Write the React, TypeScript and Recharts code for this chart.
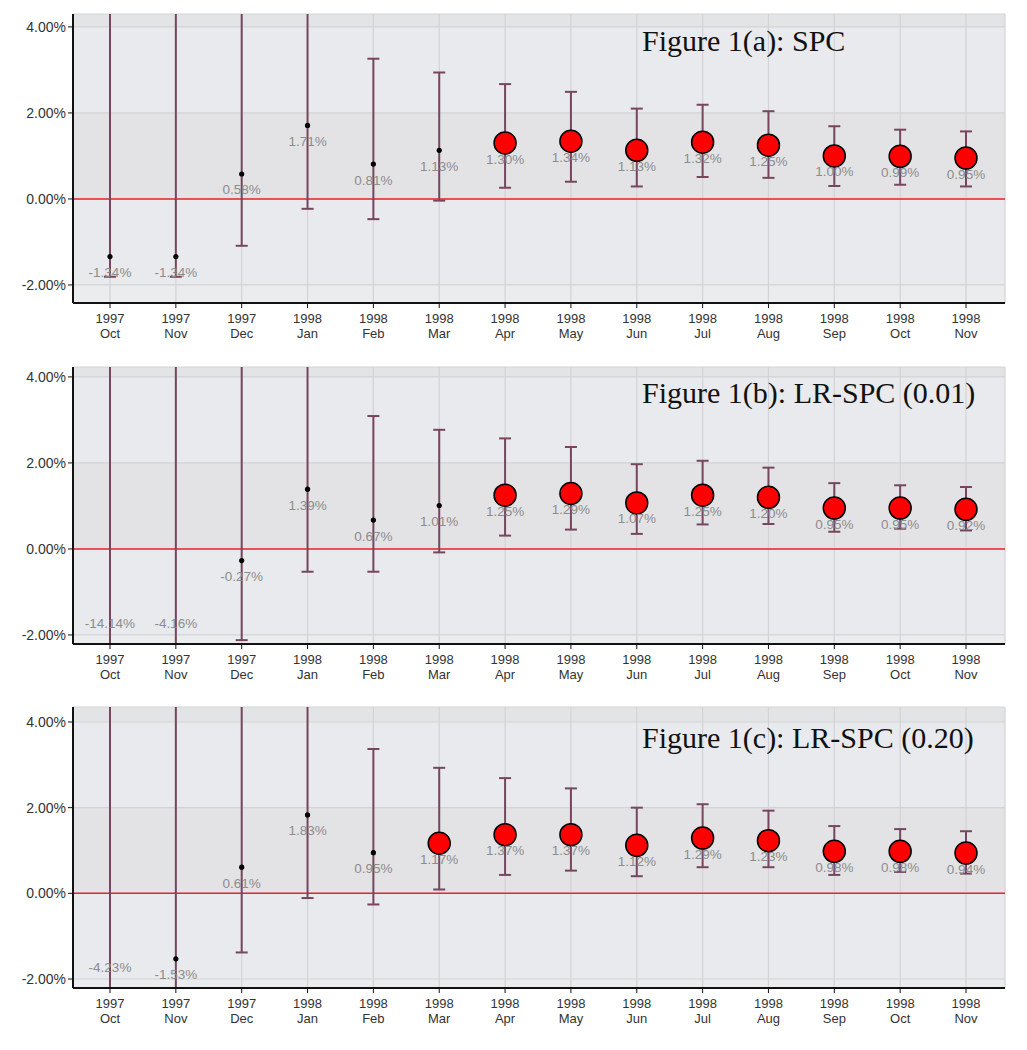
import React from "react";
import {
  ComposedChart,
  Line,
  ErrorBar,
  LabelList,
  XAxis,
  YAxis,
  CartesianGrid,
  ReferenceLine,
} from "recharts";

const years = ["1997", "1997", "1997", "1998", "1998", "1998", "1998", "1998", "1998", "1998", "1998", "1998", "1998", "1998"];
const months = ["Oct", "Nov", "Dec", "Jan", "Feb", "Mar", "Apr", "May", "Jun", "Jul", "Aug", "Sep", "Oct", "Nov"];
const yTicks = [-2, 0, 2, 4];

// Figure 1(a): SPC
const spcValue = [-1.34, -1.34, 0.58, 1.71, 0.81, 1.13, 1.3, 1.34, 1.13, 1.32, 1.25, 1.0, 0.99, 0.95];
const spcLower = [-1.81, -1.81, -1.09, -0.23, -0.47, -0.04, 0.26, 0.4, 0.29, 0.51, 0.49, 0.3, 0.33, 0.29];
const spcUpper = [6.5, 6.5, 5.6, 4.9, 3.26, 2.94, 2.67, 2.49, 2.1, 2.19, 2.04, 1.69, 1.61, 1.57];
const spcSignal = [0, 0, 0, 0, 0, 0, 1, 1, 1, 1, 1, 1, 1, 1];

// Figure 1(b): LR-SPC (0.01)
const lr01Value = [-14.14, -4.16, -0.27, 1.39, 0.67, 1.01, 1.25, 1.29, 1.07, 1.25, 1.2, 0.95, 0.95, 0.92];
const lr01Lower = [-30, -9, -2.12, -0.53, -0.53, -0.08, 0.31, 0.45, 0.35, 0.57, 0.58, 0.4, 0.47, 0.43];
const lr01Upper = [9, 7, 5.5, 4.9, 3.09, 2.77, 2.57, 2.37, 1.97, 2.05, 1.89, 1.53, 1.48, 1.44];
const lr01Signal = [0, 0, 0, 0, 0, 0, 1, 1, 1, 1, 1, 1, 1, 1];

// Figure 1(c): LR-SPC (0.20)
const lr20Value = [-4.23, -1.53, 0.61, 1.83, 0.95, 1.17, 1.37, 1.37, 1.12, 1.29, 1.23, 0.98, 0.98, 0.94];
const lr20Lower = [-10, -3.6, -1.38, -0.11, -0.26, 0.09, 0.43, 0.53, 0.4, 0.61, 0.61, 0.43, 0.5, 0.46];
const lr20Upper = [6.5, 6, 5, 4.8, 3.37, 2.93, 2.69, 2.45, 2.0, 2.08, 1.93, 1.57, 1.5, 1.45];
const lr20Signal = [0, 0, 0, 0, 0, 1, 1, 1, 1, 1, 1, 1, 1, 1];

const BAR_COLOR = "#76465e";
const BAND_FILLS = ["#e3e4e6", "#e8eaed", "#e3e3e5", "#e8eaed", "#eaecee"];
const PLOT_LEFT = 73;
const PLOT_RIGHT_MARGIN = 22;
const CHART_W = 1027;

const buildRows = (value: number[], lower: number[], upper: number[], signal: number[]) =>
  value.map((v, i) => ({
    label: `${years[i]}|${months[i]}|${i}`,
    value: v,
    err: [v - lower[i], upper[i] - v],
    signal: signal[i],
  }));

const XTick = (props: any) => {
  const { x, y, payload } = props;
  const [yr, mo] = String(payload.value).split("|");
  return (
    <g>
      <text x={x} y={y + 13} textAnchor="middle" fontSize={13} fill="#333" fontFamily="Liberation Sans, Arial">
        {yr}
      </text>
      <text x={x} y={y + 28} textAnchor="middle" fontSize={13} fill="#333" fontFamily="Liberation Sans, Arial">
        {mo}
      </text>
    </g>
  );
};

interface PanelProps {
  id: string;
  title: string;
  top: number;
  marginTop: number;
  plotHeight: number;
  domain: [number, number];
  titleTop: number;
  rows: ReturnType<typeof buildRows>;
}

function Panel({ id, title, top, marginTop, plotHeight, domain, titleTop, rows }: PanelProps) {
  const plotBottom = marginTop + plotHeight;
  const height = plotBottom + 44;
  const clipId = `plot-clip-${id}`;

  const renderDot = (p: any) => {
    const { cx, cy, index, payload } = p;
    if (cx == null || cy == null) return <g key={index} />;
    if (payload.signal) {
      return <circle key={index} cx={cx} cy={cy} r={11} fill="#ff0000" stroke="#000" strokeWidth={1.5} />;
    }
    return <circle key={index} cx={cx} cy={cy} r={2.6} fill="#000" />;
  };

  const renderLabel = (p: any) => {
    const { x, y, value, index } = p;
    if (x == null || y == null) return null;
    const ly = value < domain[0] ? plotBottom - 21 : y + 16;
    return (
      <text
        key={index}
        x={x}
        y={ly}
        textAnchor="middle"
        dominantBaseline="central"
        fontSize={13.5}
        fill="#8c8c8c"
        fontFamily="Liberation Sans, Arial"
      >
        {`${Number(value).toFixed(2)}%`}
      </text>
    );
  };

  return (
    <>
      <div style={{ position: "absolute", left: 0, top }}>
        <ComposedChart
          width={CHART_W}
          height={height}
          data={rows}
          margin={{ top: marginTop, right: PLOT_RIGHT_MARGIN, bottom: 0, left: 0 }}
        >
          <defs>
            <clipPath id={clipId}>
              <rect x={PLOT_LEFT} y={marginTop} width={CHART_W - PLOT_LEFT - PLOT_RIGHT_MARGIN} height={plotHeight} />
            </clipPath>
          </defs>
          <CartesianGrid
            stroke="#d3d3d5"
            strokeWidth={1.2}
            fill="#e8eaed"
            fillOpacity={1}
            horizontalFill={BAND_FILLS}
          />
          <XAxis
            dataKey="label"
            type="category"
            padding={{ left: 37, right: 39 }}
            height={44}
            interval={0}
            tick={<XTick />}
            tickSize={5}
            tickLine={{ stroke: "#111" }}
            axisLine={{ stroke: "#111", strokeWidth: 2 }}
          />
          <XAxis
            xAxisId="top"
            orientation="top"
            dataKey="label"
            height={0}
            tick={false}
            tickLine={false}
            axisLine={{ stroke: "#8a8a8a", strokeWidth: 1.5 }}
          />
          <YAxis
            type="number"
            domain={domain}
            allowDataOverflow
            ticks={yTicks}
            width={PLOT_LEFT}
            tickSize={5}
            tickLine={{ stroke: "#111" }}
            axisLine={{ stroke: "#111", strokeWidth: 2 }}
            tick={{ fontSize: 14, fill: "#333", fontFamily: "Liberation Sans, Arial" }}
            tickFormatter={(v: number) => `${v.toFixed(2)}%`}
          />
          <YAxis
            yAxisId="right"
            orientation="right"
            width={0}
            tick={false}
            tickLine={false}
            axisLine={{ stroke: "#8a8a8a", strokeWidth: 1.5 }}
          />
          <ReferenceLine y={0} stroke="#e8242a" strokeWidth={1.5} />
          <Line
            dataKey="value"
            stroke="none"
            isAnimationActive={false}
            dot={renderDot}
            activeDot={false}
            legendType="none"
          >
            <LabelList dataKey="value" content={renderLabel} />
            <ErrorBar
              dataKey="err"
              direction="y"
              width={6}
              stroke={BAR_COLOR}
              strokeWidth={2}
              clipPath={`url(#${clipId})`}
            />
          </Line>
        </ComposedChart>
      </div>
      <div
        style={{
          position: "absolute",
          left: 642,
          top: titleTop,
          fontFamily: "Liberation Serif, Times New Roman, serif",
          fontSize: 30,
          lineHeight: "30px",
          color: "#111",
          whiteSpace: "nowrap",
        }}
      >
        {title}
      </div>
    </>
  );
}

export default function App() {
  return (
    <div style={{ position: "relative", width: 1027, height: 1050, background: "#fff" }}>
      <style>{"body{margin:0}"}</style>
      <Panel
        id="a"
        title="Figure 1(a): SPC"
        top={0}
        marginTop={14}
        plotHeight={289}
        domain={[-2.42, 4.3]}
        titleTop={26}
        rows={buildRows(spcValue, spcLower, spcUpper, spcSignal)}
      />
      <Panel
        id="b"
        title="Figure 1(b): LR-SPC (0.01)"
        top={345}
        marginTop={22}
        plotHeight={277}
        domain={[-2.21, 4.23]}
        titleTop={378}
        rows={buildRows(lr01Value, lr01Lower, lr01Upper, lr01Signal)}
      />
      <Panel
        id="c"
        title="Figure 1(c): LR-SPC (0.20)"
        top={690}
        marginTop={17}
        plotHeight={281}
        domain={[-2.21, 4.35]}
        titleTop={723}
        rows={buildRows(lr20Value, lr20Lower, lr20Upper, lr20Signal)}
      />
    </div>
  );
}
